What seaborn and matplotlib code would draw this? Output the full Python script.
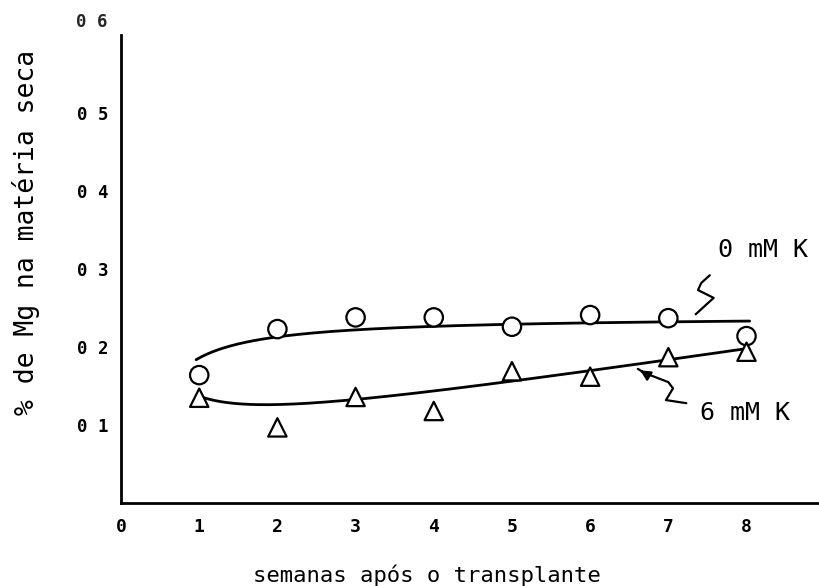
import numpy as np
import pandas as pd
import matplotlib
matplotlib.use("Agg")
import matplotlib.pyplot as plt
import seaborn as sns

# Mg content (% of dry matter) per week after transplanting
weeks = [1, 2, 3, 4, 5, 6, 7, 8]
mg_0mM_K = [0.164, 0.223, 0.238, 0.238, 0.226, 0.241, 0.237, 0.214]
mg_6mM_K = [0.135, 0.097, 0.136, 0.118, 0.169, 0.162, 0.187, 0.194]
series_labels = ["0 mM K", "6 mM K"]

# fitted response curves: y = a + b*x + c/x
fit_0mM_K = (0.240, 0.0, -0.054)
fit_6mM_K = (0.0699, 0.0152, 0.0519)
fit_range_0mM_K = (0.96, 8.04)
fit_range_6mM_K = (1.06, 8.0)

x_ticks = [0, 1, 2, 3, 4, 5, 6, 7, 8]
x_tick_labels = ["0", "1", "2", "3", "4", "5", "6", "7", "8"]
y_ticks = [0.1, 0.2, 0.3, 0.4, 0.5]
y_tick_labels = ["0 1", "0 2", "0 3", "0 4", "0 5"]
y_top_label = "0 6"

# hand-drawn pointers from the labels to their curves (data units)
pointer_0mM_x = [7.53, 7.42, 7.38, 7.48, 7.58, 7.47, 7.35]
pointer_0mM_y = [0.292, 0.282, 0.273, 0.268, 0.263, 0.253, 0.242]
pointer_6mM_x = [7.23, 6.97, 7.06, 7.00, 6.87, 6.69, 6.61]
pointer_6mM_y = [0.128, 0.132, 0.147, 0.155, 0.160, 0.167, 0.172]

sns.set_theme(style="white")
plt.rcParams["font.family"] = ["DejaVu Sans Mono", "DejaVu Sans"]

points = pd.DataFrame({
    "semana": weeks * 2,
    "mg": mg_0mM_K + mg_6mM_K,
    "serie": [series_labels[0]] * len(weeks) + [series_labels[1]] * len(weeks),
})


def fit_curve(coef, xr, label):
    a, b, c = coef
    x = np.linspace(xr[0], xr[1], 200)
    return pd.DataFrame({"semana": x, "mg": a + b * x + c / x, "serie": label})


curves = pd.concat([
    fit_curve(fit_0mM_K, fit_range_0mM_K, series_labels[0]),
    fit_curve(fit_6mM_K, fit_range_6mM_K, series_labels[1]),
])

fig = plt.figure(figsize=(8.2, 5.86), dpi=100)
ax = fig.add_axes([0.1476, 0.1416, 0.8524, 0.7986])

sns.lineplot(data=curves, x="semana", y="mg", units="serie", estimator=None,
             color="black", linewidth=2.0, ax=ax, legend=False, sort=False)
sns.scatterplot(data=points, x="semana", y="mg", style="serie",
                markers={series_labels[0]: "o", series_labels[1]: "^"},
                s=175, facecolor="white", edgecolor="black", linewidth=1.6,
                ax=ax, legend=False, zorder=3)

ax.set_xlim(0, 8.94)
ax.set_ylim(0, 0.6)
ax.set_xticks(x_ticks)
ax.set_xticklabels(x_tick_labels)
ax.set_yticks(y_ticks)
ax.set_yticklabels(y_tick_labels)
ax.set_xlabel("")
ax.set_ylabel("")

for side in ("top", "right"):
    ax.spines[side].set_visible(False)
for side in ("left", "bottom"):
    ax.spines[side].set_color("black")
    ax.spines[side].set_linewidth(2.0)

ax.tick_params(axis="y", direction="in", length=8, width=1.5, pad=9,
               colors="black", labelsize=12.5)
ax.tick_params(axis="x", direction="in", length=5, width=1.5, pad=11,
               colors="black", labelsize=13)
for lab in ax.get_xticklabels() + ax.get_yticklabels():
    lab.set_fontweight("bold")

ax.annotate(y_top_label, xy=(0, 0.6), xycoords="data", xytext=(-9.5, 9.5),
            textcoords="offset points", ha="right", va="center",
            fontsize=12.5, fontweight="bold", annotation_clip=False)

# pointers from the series labels
ax.plot(pointer_0mM_x, pointer_0mM_y, color="black", linewidth=1.6,
        solid_capstyle="round", solid_joinstyle="round")
ax.plot(pointer_6mM_x, pointer_6mM_y, color="black", linewidth=1.6,
        solid_capstyle="round", solid_joinstyle="round")
ax.annotate("", xy=(pointer_6mM_x[-1], pointer_6mM_y[-1]),
            xytext=(pointer_6mM_x[-2], pointer_6mM_y[-2]),
            arrowprops=dict(arrowstyle="-|>,head_length=0.5,head_width=0.25",
                            color="black", linewidth=1.6))

fig.text(718 / 820, 1 - 250 / 586, series_labels[0], ha="left", va="center",
         fontsize=18, color="black")
fig.text(700 / 820, 1 - 413 / 586, series_labels[1], ha="left", va="center",
         fontsize=18, color="black")

fig.text(26 / 820, 1 - 232 / 586, "% de Mg na matéria seca", rotation=90,
         ha="center", va="center", fontsize=19, color="black")
fig.text(427 / 820, 1 - 575 / 586, "semanas após o transplante",
         ha="center", va="center", fontsize=16, color="black")

fig.savefig("out.png", dpi=100, facecolor="white")
